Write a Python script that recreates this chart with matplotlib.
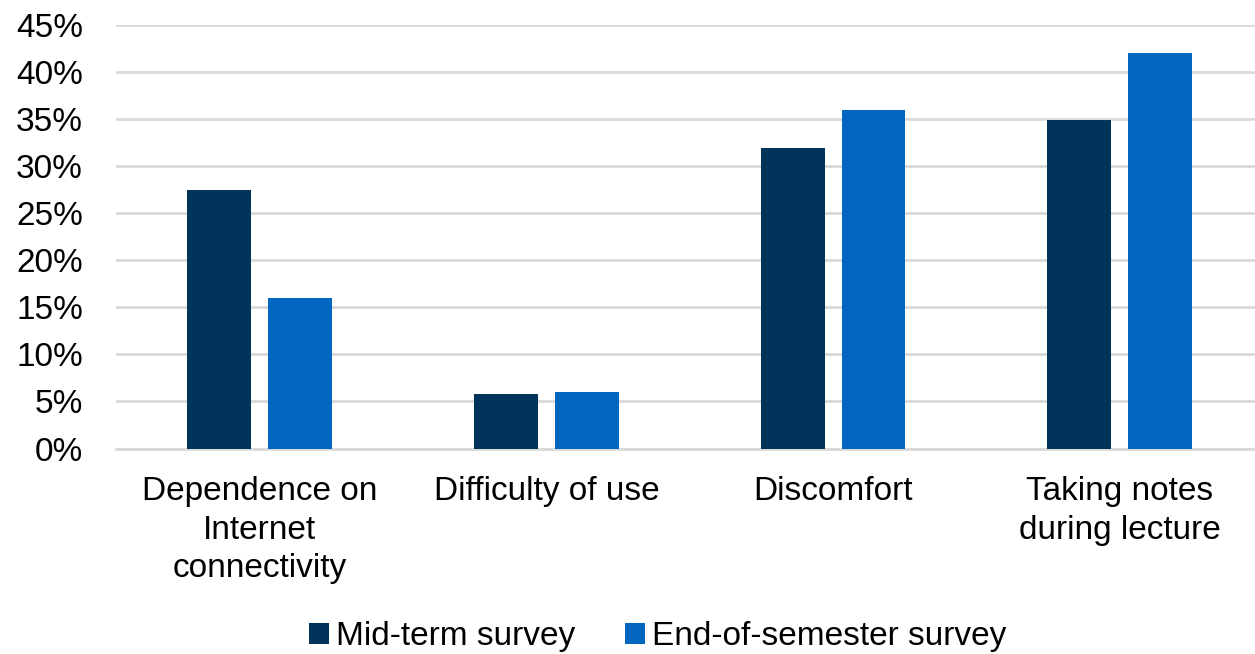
import matplotlib
matplotlib.use("Agg")
import matplotlib.pyplot as plt
import numpy as np
from matplotlib.ticker import PercentFormatter

plt.rcParams['font.family'] = ['Liberation Sans', 'DejaVu Sans']

categories = ["Dependence on\nInternet\nconnectivity", "Difficulty of use",
              "Discomfort", "Taking notes\nduring lecture"]
mid_term = [27.5, 5.8, 31.9, 34.9]
end_semester = [16.0, 6.0, 36.0, 42.0]
series_names = ["Mid-term survey", "End-of-semester survey"]
colors = ["#00335a", "#0066bf"]

fig = plt.figure(figsize=(12.55, 6.54), dpi=100)
# plot area runs slightly past the right edge of the canvas
ax = fig.add_axes([0.0926, 0.3142, 0.9139, 0.6476])

x = np.arange(len(categories))
width = 0.223
offset = 0.141
ax.bar(x - offset, mid_term, width, color=colors[0], label=series_names[0], zorder=3)
ax.bar(x + offset, end_semester, width, color=colors[1], label=series_names[1], zorder=3)

ax.set_xlim(-0.5, len(categories) - 0.5)
ax.set_ylim(0, 45)
ax.set_yticks(np.arange(0, 46, 5))
ax.yaxis.set_major_formatter(PercentFormatter(decimals=0))
ax.grid(axis='y', color='#d9d9d9', linewidth=2, zorder=0)

for side in ['left', 'right', 'top']:
    ax.spines[side].set_visible(False)
ax.spines['bottom'].set_color('#d9d9d9')
ax.spines['bottom'].set_linewidth(2)

ax.tick_params(axis='both', length=0, labelsize=24, colors='black')
ax.tick_params(axis='y', pad=24)
ax.tick_params(axis='x', pad=20)
ax.set_xticks(x)
ax.set_xticklabels(categories, linespacing=1.31)

fig.legend(loc='center', bbox_to_anchor=(0.524, 0.026), ncol=2,
           frameon=False, fontsize=24, handlelength=0.6, handleheight=0.6,
           handletextpad=0.2, columnspacing=1.5)

fig.savefig("out.png", dpi=100, facecolor='white')
